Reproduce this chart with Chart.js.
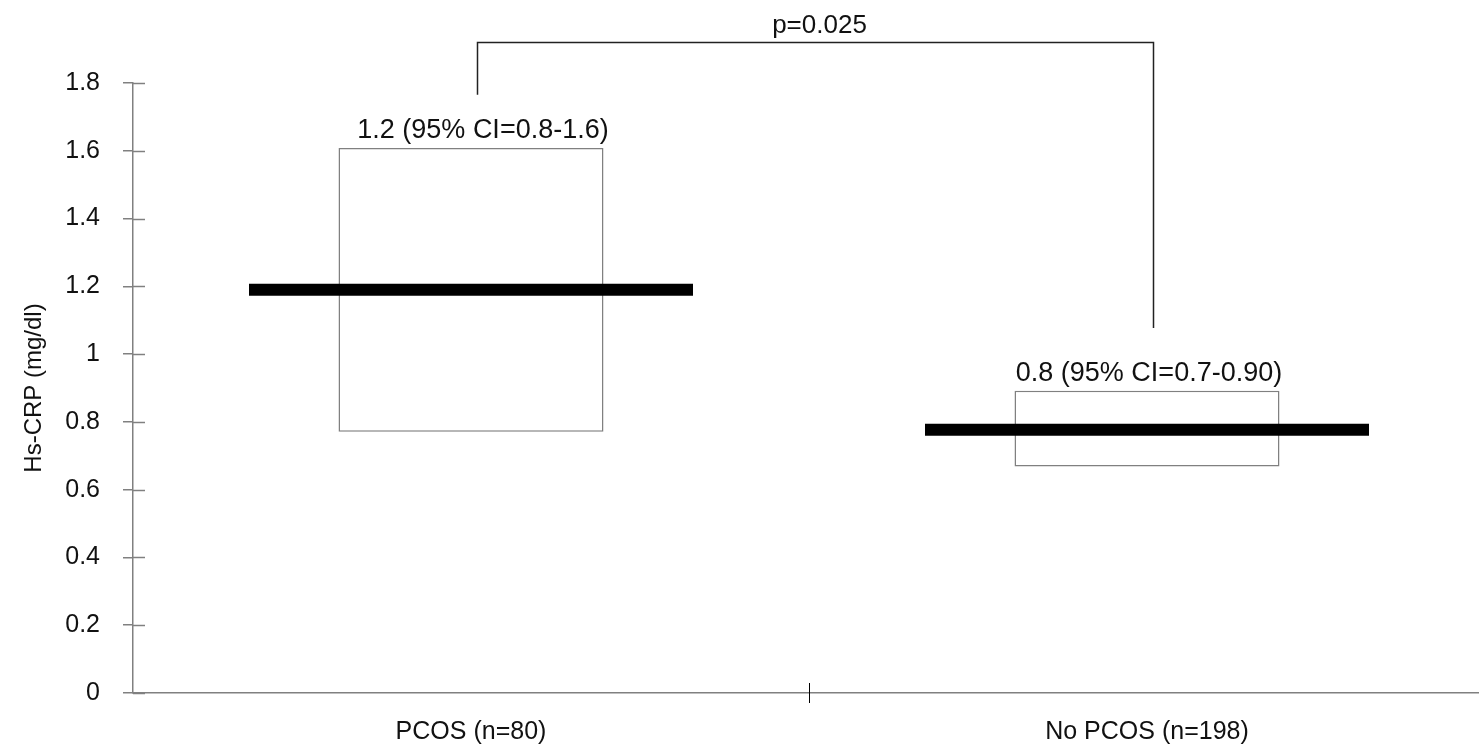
<!DOCTYPE html>
<html><head><meta charset="utf-8">
<script src="https://cdn.jsdelivr.net/npm/chart.js"></script>
<style>
html, body { margin: 0; padding: 0; background: #fff; overflow: hidden; }
#wrap { position: relative; width: 1485px; height: 749px; }
</style></head>
<body>
<div id="wrap"><canvas id="c" width="1485" height="749"></canvas></div>
<script>
// values
var GROUPS = ['PCOS (n=80)', 'No PCOS (n=198)'];
var MEDIAN = [1.19, 0.777];
var CI_LOW = [0.771, 0.668];
var CI_HIGH = [1.608, 0.892];
var CI_TEXT = ['1.2 (95% CI=0.8-1.6)', '0.8 (95% CI=0.7-0.90)'];
var Y_TICKS = [0, 0.2, 0.4, 0.6, 0.8, 1, 1.2, 1.4, 1.6, 1.8];
var P_TEXT = 'p=0.025';

var FONT = "'Liberation Sans', Arial, sans-serif";
var AXIS = '#808080';

// extra marks: inner half of y ticks, mid x tick, CI labels, p-value bracket
var extras = {
  id: 'extras',
  afterDraw: function (ch) {
    var ctx = ch.ctx, a = ch.chartArea, xs = ch.scales.x, ys = ch.scales.y;
    ctx.save();
    ctx.strokeStyle = AXIS; ctx.lineWidth = 1.5;
    ys.ticks.forEach(function (t) {
      var y = Math.round(ys.getPixelForValue(t.value)) + 0.5;
      ctx.beginPath(); ctx.moveTo(a.left, y); ctx.lineTo(a.left + 12, y); ctx.stroke();
    });
    var xm = Math.round((xs.getPixelForValue(0) + xs.getPixelForValue(1)) / 2) + 0.5;
    ctx.strokeStyle = '#000'; ctx.lineWidth = 1;
    ctx.beginPath(); ctx.moveTo(xm, a.bottom - 10); ctx.lineTo(xm, a.bottom + 10); ctx.stroke();

    // CI labels over each box
    var meta = ch.getDatasetMeta(1);
    ctx.fillStyle = '#111'; ctx.font = '27px ' + FONT;
    ctx.textAlign = 'center'; ctx.textBaseline = 'alphabetic';
    meta.data.forEach(function (el, i) { ctx.fillText(CI_TEXT[i], el.x + (i === 0 ? 12 : 2), el.y - 10); });

    // bracket
    var l = Math.round(xs.getPixelForValue(0)) + 6.5, r = Math.round(xs.getPixelForValue(1)) + 6.5;
    var top = Math.round(ys.getPixelForValue(1.92)) + 0.5;
    ctx.strokeStyle = '#222'; ctx.lineWidth = 1.5;
    ctx.beginPath();
    ctx.moveTo(l, ys.getPixelForValue(1.765)); ctx.lineTo(l, top);
    ctx.lineTo(r, top); ctx.lineTo(r, ys.getPixelForValue(1.077));
    ctx.stroke();
    ctx.font = '26px ' + FONT;
    ctx.fillText(P_TEXT, (l + r) / 2 + 4, top - 10);
    ctx.restore();
  }
};

new Chart(document.getElementById('c'), {
  data: {
    labels: GROUPS,
    datasets: [
      { type: 'line', label: 'Median', data: MEDIAN, showLine: false, order: 0,
        pointStyle: 'line', pointRadius: 222, pointHoverRadius: 222,
        pointBorderWidth: 12, pointHoverBorderWidth: 12, borderColor: '#000', pointBorderColor: '#000' },
      { type: 'bar', label: '95% CI', order: 1,
        data: CI_LOW.map(function (v, i) { return [v, CI_HIGH[i]]; }),
        backgroundColor: '#fff', borderColor: AXIS, borderWidth: 1.5, borderSkipped: false,
        barPercentage: 0.392, categoryPercentage: 1 }
    ]
  },
  options: {
    responsive: false, animation: false, devicePixelRatio: 1,
    layout: { autoPadding: false, padding: { top: 83, right: 0, left: 0, bottom: 0 } },
    plugins: { legend: { display: false }, tooltip: { enabled: false } },
    scales: {
      x: {
        offset: true,
        grid: { display: false },
        border: { color: AXIS, width: 1.5 },
        ticks: { color: '#111', font: { family: FONT, size: 25 }, padding: 16 },
        afterFit: function (s) { s.height = 56; }
      },
      y: {
        min: 0, max: 1.8,
        afterBuildTicks: function (s) { s.ticks = Y_TICKS.map(function (v) { return { value: v }; }); },
        grid: { drawOnChartArea: false, drawTicks: true, tickLength: 10, color: AXIS, lineWidth: 1.5 },
        border: { color: AXIS, width: 1.5 },
        ticks: { color: '#111', font: { family: FONT, size: 25 }, padding: 23,
          callback: function (v) { return String(+v.toFixed(1)); } },
        title: { display: true, text: 'Hs-CRP (mg/dl)', color: '#111',
          font: { family: FONT, size: 24 }, padding: { top: 20, bottom: 0 } },
        afterFit: function (s) { s.width = 133; }
      }
    }
  },
  plugins: [extras]
});
</script>
</body></html>
